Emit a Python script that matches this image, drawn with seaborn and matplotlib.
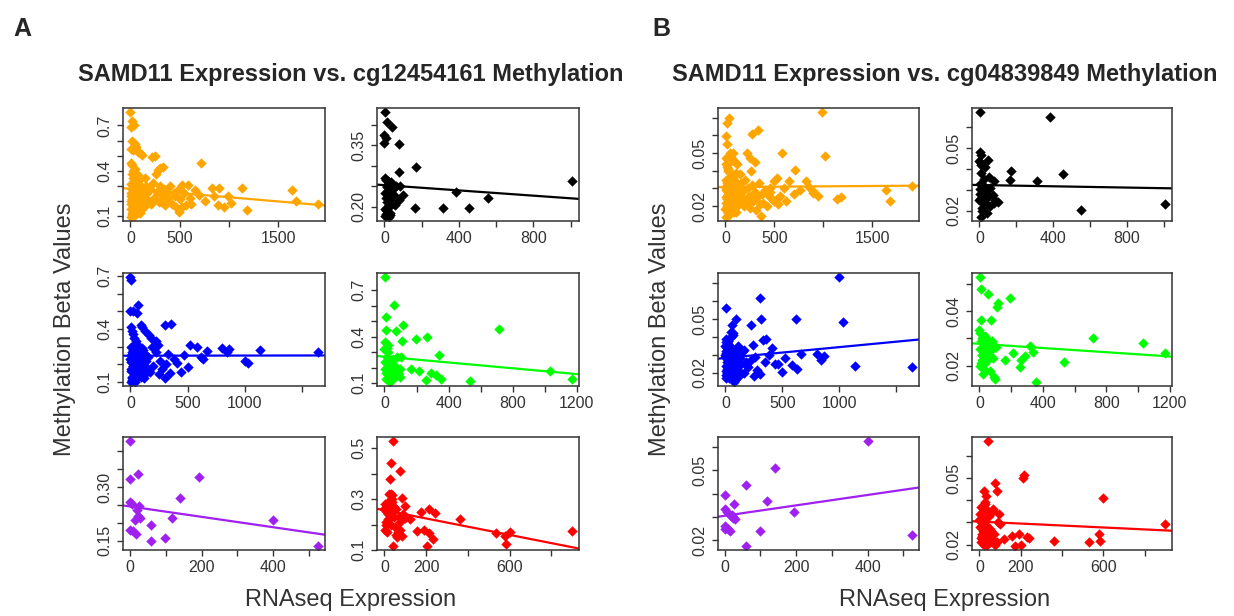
import matplotlib
matplotlib.use('Agg')
import matplotlib.pyplot as plt
import pandas as pd
import seaborn as sns

sns.set_style('ticks')
plt.rcParams['font.family'] = ['Liberation Sans', 'DejaVu Sans']

# RNAseq expression (shared by both panels) and beta values for
# cg12454161 (panel A) and cg04839849 (panel B), one group per colour
orange_x = [0, 18, 35, 8, 12, 45, 60, 5, 25, 80,
            100, 120, 222, 246, 335, 275, 300, 715, 528, 581,
            651, 827, 898, 990, 1021, 891, 1137, 1180, 1637, 1683,
            1901, 493, 362, 524, 455,
            150, 160, 170, 180, 190, 200, 210, 230, 240, 250,
            260, 270, 285, 300, 310, 320, 340, 350, 370, 380,
            400, 420, 440, 460, 480, 500, 540, 560, 600, 620,
            700, 760, 850, 950,
            3, 7, 15, 22, 28, 33, 41, 48, 55, 63,
            70, 77, 85, 92, 104, 112, 125, 138, 1, 9,
            13, 19, 26, 37, 44, 52, 58, 66, 73, 88,
            97, 108, 118, 131, 4, 11, 17, 24, 31, 39,
            47, 56, 68, 81, 95, 115, 142, 6, 14, 29,
            43, 61, 79, 101,
            5, 16, 27, 36, 50, 59, 71, 84, 90, 109,
            2, 20, 32, 46, 65, 75, 98, 122, 135, 12]
orange_a = [0.788, 0.727, 0.700, 0.690, 0.600, 0.580, 0.560, 0.545, 0.535, 0.525,
            0.515, 0.505, 0.493, 0.497, 0.428, 0.406, 0.420, 0.449, 0.307, 0.303,
            0.275, 0.286, 0.286, 0.230, 0.187, 0.172, 0.286, 0.137, 0.270, 0.203,
            0.183, 0.128, 0.200, 0.160, 0.230,
            0.350, 0.300, 0.250, 0.200, 0.200, 0.280, 0.180, 0.320, 0.220, 0.210,
            0.380, 0.260, 0.190, 0.300, 0.190, 0.240, 0.280, 0.170, 0.260, 0.220,
            0.300, 0.180, 0.250, 0.160, 0.270, 0.210, 0.250, 0.170, 0.220, 0.180,
            0.240, 0.200, 0.230, 0.160,
            0.095, 0.25, 0.38, 0.17, 0.30, 0.12, 0.22, 0.41, 0.15, 0.27,
            0.19, 0.33, 0.14, 0.24, 0.18, 0.29, 0.16, 0.21, 0.15, 0.20,
            0.44, 0.11, 0.35, 0.26, 0.17, 0.31, 0.13, 0.23, 0.37, 0.19,
            0.28, 0.14, 0.24, 0.17, 0.31, 0.12, 0.21, 0.40, 0.10, 0.33,
            0.19, 0.26, 0.15, 0.22, 0.12, 0.20, 0.24, 0.45, 0.28, 0.16,
            0.13, 0.35, 0.27, 0.15,
            0.18, 0.21, 0.14, 0.24, 0.19, 0.16, 0.22, 0.13, 0.20, 0.17,
            0.23, 0.15, 0.19, 0.26, 0.12, 0.21, 0.18, 0.24, 0.16, 0.20]
orange_b = [0.0185, 0.0669, 0.0697, 0.0594, 0.0551, 0.0500, 0.0480, 0.0470, 0.0460, 0.0500,
            0.0450, 0.0440, 0.0500, 0.0470, 0.0632, 0.0607, 0.0450, 0.0406, 0.0359, 0.0500,
            0.0341, 0.0341, 0.0275, 0.0731, 0.0481, 0.0288, 0.0243, 0.0250, 0.0294, 0.0228,
            0.0316, 0.0228, 0.0144, 0.0243, 0.0280,
            0.0380, 0.0330, 0.0280, 0.0240, 0.0200, 0.0350, 0.0220, 0.0300, 0.0260, 0.0190,
            0.0400, 0.0320, 0.0230, 0.0280, 0.0180, 0.0250, 0.0330, 0.0210, 0.0270, 0.0220,
            0.0290, 0.0200, 0.0260, 0.0300, 0.0240, 0.0340, 0.0210, 0.0260, 0.0300, 0.0230,
            0.0270, 0.0290, 0.0310, 0.0260,
            0.022, 0.035, 0.018, 0.041, 0.027, 0.015, 0.031, 0.045, 0.024, 0.019,
            0.038, 0.028, 0.021, 0.033, 0.017, 0.026, 0.030, 0.023, 0.029, 0.044,
            0.020, 0.034, 0.016, 0.025, 0.048, 0.022, 0.037, 0.018, 0.027, 0.032,
            0.020, 0.039, 0.024, 0.029, 0.014, 0.026, 0.042, 0.019, 0.031, 0.023,
            0.036, 0.017, 0.028, 0.046, 0.021, 0.033, 0.025, 0.030, 0.018, 0.040,
            0.027, 0.022, 0.035, 0.020,
            0.031, 0.024, 0.028, 0.019, 0.034, 0.026, 0.022, 0.030, 0.017, 0.027,
            0.025, 0.032, 0.021, 0.029, 0.023, 0.036, 0.026, 0.020, 0.028, 0.033]

black_x = [5, 15, 43, 0, 6, 0, 76, 169, 80, 1005,
           86, 102, 80, 383, 554, 164, 313, 452, 6,
           2, 10, 20, 30, 12, 25, 4, 18, 35, 8,
           28, 15, 45, 3, 22, 40, 9, 30, 14, 50,
           5, 25, 60, 35, 55, 7]
black_a = [0.430, 0.407, 0.394, 0.375, 0.367, 0.354, 0.352, 0.298, 0.284, 0.262,
           0.252, 0.230, 0.218, 0.237, 0.222, 0.198, 0.198, 0.198, 0.178,
           0.270, 0.222, 0.255, 0.180, 0.248, 0.205, 0.235, 0.262, 0.228, 0.192,
           0.218, 0.252, 0.245, 0.178, 0.200, 0.240, 0.265, 0.186, 0.212, 0.230,
           0.196, 0.176, 0.252, 0.260, 0.205, 0.182]
black_b = [0.0673, 0.0300, 0.0260, 0.0440, 0.0420, 0.0250, 0.0275, 0.0391, 0.0340, 0.0230,
           0.0250, 0.0243, 0.0238, 0.0648, 0.0203, 0.0348, 0.0340, 0.0375, 0.0170,
           0.0305, 0.0465, 0.0250, 0.0410, 0.0200, 0.0350, 0.0480, 0.0270, 0.0230, 0.0380,
           0.0290, 0.0210, 0.0445, 0.0330, 0.0260, 0.0190, 0.0430, 0.0300, 0.0240, 0.0360,
           0.0280, 0.0320, 0.0220, 0.0285, 0.0310, 0.0260]

blue_x = [0, 5, 70, 0, 20, 61, 91, 105, 130, 161,
          180, 227, 240, 303, 355, 310, 524, 585, 667, 803,
          864, 1136, 1636, 1000, 1030, 500, 439, 303, 167, 121,
          409, 618, 633, 840, 465, 330, 260, 200, 280, 350,
          380, 225, 150, 190, 250,
          2, 8, 14, 21, 27, 34, 42, 49, 57, 64,
          72, 79, 86, 95, 110, 125, 138, 0, 5, 11,
          18, 24, 30, 38, 45, 53, 60, 68, 76, 83,
          99, 117, 132, 3, 9, 16, 23, 35, 47, 58,
          74, 90, 106, 120,
          1, 6, 12, 19, 26, 33, 40, 52, 62, 70,
          81, 93, 101, 115, 128, 4, 15, 29, 44, 66]
blue_a = [0.694, 0.680, 0.538, 0.504, 0.500, 0.490, 0.424, 0.410, 0.390, 0.367,
          0.350, 0.329, 0.310, 0.424, 0.430, 0.200, 0.310, 0.300, 0.275, 0.290,
          0.285, 0.281, 0.268, 0.218, 0.205, 0.186, 0.157, 0.123, 0.157, 0.138,
          0.205, 0.240, 0.230, 0.270, 0.250, 0.260, 0.220, 0.190, 0.170, 0.150,
          0.230, 0.270, 0.240, 0.300, 0.145,
          0.10, 0.30, 0.21, 0.37, 0.15, 0.25, 0.18, 0.33, 0.12, 0.22,
          0.27, 0.16, 0.24, 0.13, 0.20, 0.26, 0.17, 0.23, 0.41, 0.12,
          0.28, 0.19, 0.35, 0.10, 0.21, 0.31, 0.15, 0.20, 0.25, 0.14,
          0.29, 0.18, 0.22, 0.16, 0.27, 0.39, 0.11, 0.23, 0.32, 0.19,
          0.14, 0.21, 0.28, 0.15,
          0.17, 0.21, 0.13, 0.24, 0.19, 0.15, 0.22, 0.18, 0.26, 0.14,
          0.20, 0.16, 0.23, 0.12, 0.19, 0.25, 0.11, 0.21, 0.17, 0.20]
blue_b = [0.0300, 0.0564, 0.0420, 0.0350, 0.0380, 0.0467, 0.0500, 0.0280, 0.0250, 0.0330,
          0.0260, 0.0467, 0.0355, 0.0615, 0.0390, 0.0500, 0.0282, 0.0245, 0.0305, 0.0304,
          0.0295, 0.0240, 0.0233, 0.0733, 0.0482, 0.0205, 0.0249, 0.0191, 0.0200, 0.0180,
          0.0336, 0.0500, 0.0222, 0.0273, 0.0249, 0.0385, 0.0290, 0.0230, 0.0215, 0.0260,
          0.0300, 0.0270, 0.0320, 0.0240, 0.0185,
          0.017, 0.032, 0.024, 0.038, 0.021, 0.028, 0.035, 0.019, 0.026, 0.041,
          0.023, 0.030, 0.016, 0.027, 0.034, 0.020, 0.025, 0.029, 0.039, 0.022,
          0.018, 0.036, 0.025, 0.031, 0.043, 0.020, 0.027, 0.033, 0.015, 0.024,
          0.030, 0.021, 0.028, 0.037, 0.019, 0.026, 0.032, 0.023, 0.040, 0.018,
          0.029, 0.022, 0.035, 0.026,
          0.024, 0.031, 0.020, 0.027, 0.035, 0.022, 0.029, 0.018, 0.026, 0.033,
          0.023, 0.030, 0.019, 0.028, 0.025, 0.021, 0.034, 0.017, 0.027, 0.032]

green_x = [3, 57, 11, 116, 72, 7, 715, 196, 264, 111,
           340, 163, 214, 257, 290, 322, 355, 536, 1031, 1168,
           0, 4, 9, 14, 19, 25, 31, 38, 45, 52,
           60, 68, 77, 86, 95, 104, 2, 6, 12, 17,
           22, 28, 35, 42, 49, 65, 82, 99, 15, 33]
green_a = [0.785, 0.603, 0.528, 0.479, 0.436, 0.443, 0.449, 0.385, 0.400, 0.372,
           0.286, 0.192, 0.179, 0.121, 0.164, 0.154, 0.126, 0.115, 0.179, 0.128,
           0.32, 0.19, 0.13, 0.27, 0.35, 0.16, 0.23, 0.12, 0.18, 0.26,
           0.15, 0.21, 0.27, 0.17, 0.14, 0.27, 0.24, 0.37, 0.17, 0.13,
           0.30, 0.22, 0.11, 0.25, 0.16, 0.14, 0.16, 0.19, 0.33, 0.20]
green_b = [0.0525, 0.0462, 0.0481, 0.0432, 0.0367, 0.0367, 0.0301, 0.0449, 0.0222, 0.0416,
           0.0252, 0.0222, 0.0247, 0.0194, 0.0235, 0.0272, 0.0141, 0.0212, 0.0284, 0.0247,
           0.033, 0.026, 0.021, 0.030, 0.024, 0.019, 0.028, 0.031, 0.022, 0.027,
           0.025, 0.018, 0.029, 0.023, 0.016, 0.027, 0.032, 0.020, 0.029, 0.024,
           0.017, 0.026, 0.021, 0.030, 0.025, 0.028, 0.026, 0.015, 0.022, 0.027]

purple_x = [2, 2, 23, 2, 5, 2, 10, 17, 15, 21,
            26, 24, 29, 60, 60, 99, 118, 141, 194, 400, 523]
purple_a = [0.428, 0.323, 0.337, 0.259, 0.254, 0.180, 0.176, 0.169, 0.209, 0.235,
            0.247, 0.218, 0.215, 0.193, 0.150, 0.159, 0.214, 0.269, 0.327, 0.209, 0.136]
purple_b = [0.0392, 0.0333, 0.0300, 0.0248, 0.0322, 0.0260, 0.0248, 0.0302, 0.0241, 0.0307,
            0.0354, 0.0297, 0.0290, 0.0439, 0.0175, 0.0241, 0.0367, 0.0509, 0.0320, 0.0626, 0.0222]

red_x = [40, 33, 74, 25, 20, 30, 35, 83, 96, 174,
         215, 240, 360, 99, 121, 190, 212, 157, 231, 41,
         203, 579, 600, 582, 896, 532, 60, 75, 83, 8, 13,
         2, 6, 10, 15, 19, 24, 28, 33, 38, 44,
         50, 57, 65, 72, 88, 4, 12, 21, 30, 46,
         54, 68, 0, 17, 36]
red_a = [0.528, 0.444, 0.411, 0.380, 0.320, 0.322, 0.318, 0.304, 0.273, 0.251,
         0.261, 0.244, 0.220, 0.224, 0.220, 0.180, 0.168, 0.175, 0.144, 0.117,
         0.117, 0.157, 0.171, 0.124, 0.175, 0.167, 0.150, 0.180, 0.155, 0.200, 0.170,
         0.28, 0.21, 0.26, 0.24, 0.29, 0.22, 0.27, 0.25, 0.30, 0.23,
         0.19, 0.26, 0.17, 0.21, 0.24, 0.18, 0.25, 0.28, 0.20, 0.27,
         0.16, 0.23, 0.26, 0.22, 0.29]
red_b = [0.0666, 0.0420, 0.0478, 0.0383, 0.0440, 0.0360, 0.0350, 0.0440, 0.0337, 0.0195,
         0.0513, 0.0230, 0.0218, 0.0295, 0.0226, 0.0246, 0.0501, 0.0240, 0.0235, 0.0249,
         0.0200, 0.0246, 0.0409, 0.0215, 0.0295, 0.0211, 0.0226, 0.0200, 0.0210, 0.0230, 0.0250,
         0.034, 0.021, 0.037, 0.026, 0.031, 0.023, 0.039, 0.029, 0.020, 0.033,
         0.027, 0.022, 0.036, 0.025, 0.030, 0.028, 0.024, 0.020, 0.032, 0.022,
         0.026, 0.035, 0.031, 0.028, 0.021]

titles = ['SAMD11 Expression vs. cg12454161 Methylation',
          'SAMD11 Expression vs. cg04839849 Methylation']
panel_letters = ['A', 'B']

# x ticks per group (the same in both panels); blank labels are the ones R skipped
x_ticks = {
    'orange': ([0, 500, 1000, 1500], ['0', '500', '', '1500']),
    'black': ([0, 200, 400, 600, 800, 1000], ['0', '', '400', '', '800', '']),
    'blue': ([0, 500, 1000, 1500], ['0', '500', '1000', '']),
    'green': ([0, 200, 400, 600, 800, 1000, 1200], ['0', '', '400', '', '800', '', '1200']),
    'purple': ([0, 100, 200, 300, 400, 500], ['0', '', '200', '', '400', '']),
    'red': ([0, 200, 400, 600, 800], ['0', '200', '', '600', '']),
}
y_ticks_a = {
    'orange': ([0.1, 0.2, 0.3, 0.4, 0.5, 0.6, 0.7], ['0.1', '', '', '0.4', '', '', '0.7']),
    'black': ([0.20, 0.25, 0.30, 0.35, 0.40], ['0.20', '', '', '0.35', '']),
    'blue': ([0.1, 0.2, 0.3, 0.4, 0.5, 0.6, 0.7], ['0.1', '', '', '0.4', '', '', '0.7']),
    'green': ([0.1, 0.2, 0.3, 0.4, 0.5, 0.6, 0.7], ['0.1', '', '', '0.4', '', '', '0.7']),
    'purple': ([0.15, 0.20, 0.25, 0.30, 0.35, 0.40], ['0.15', '', '', '0.30', '', '']),
    'red': ([0.1, 0.2, 0.3, 0.4, 0.5], ['0.1', '', '0.3', '', '0.5']),
}
y_ticks_b = {
    'orange': ([0.02, 0.03, 0.04, 0.05, 0.06, 0.07], ['0.02', '', '', '0.05', '', '']),
    'black': ([0.02, 0.03, 0.04, 0.05, 0.06], ['0.02', '', '', '0.05', '']),
    'blue': ([0.02, 0.03, 0.04, 0.05, 0.06, 0.07], ['0.02', '', '', '0.05', '', '']),
    'green': ([0.02, 0.03, 0.04, 0.05], ['0.02', '', '0.04', '']),
    'purple': ([0.02, 0.03, 0.04, 0.05, 0.06], ['0.02', '', '', '0.05', '']),
    'red': ([0.02, 0.03, 0.04, 0.05, 0.06], ['0.02', '', '', '0.05', '']),
}

groups = [
    ('orange', '#FFA500', orange_x, orange_a, orange_b),
    ('black', '#000000', black_x, black_a, black_b),
    ('blue', '#0000FF', blue_x, blue_a, blue_b),
    ('green', '#00FF00', green_x, green_a, green_b),
    ('purple', '#A020F0', purple_x, purple_a, purple_b),
    ('red', '#FF0000', red_x, red_a, red_b),
]

W, H = 1234, 616
fig = plt.figure(figsize=(W / 100, H / 100), dpi=100)

panel_cols = [[(123, 325), (377, 579)], [(718, 919), (972, 1172)]]
rows = [(108, 221), (273, 386), (437, 550)]
letter_x = [22, 661]
TXT = '#333333'


def padded(vals):
    lo, hi = min(vals), max(vals)
    r = hi - lo
    return lo - 0.04 * r, hi + 0.04 * r


def draw(ax, x, y, color, xt, yt):
    df = pd.DataFrame({'expr': x, 'beta': y})
    xlim, ylim = padded(df.expr), padded(df.beta)
    ax.set_xlim(xlim)
    ax.set_ylim(ylim)
    sns.regplot(data=df, x='expr', y='beta', ax=ax, ci=None, truncate=False,
                color=color, marker='D',
                scatter_kws=dict(s=28, linewidths=0, alpha=1),
                line_kws=dict(lw=1.6))
    ax.set_xlim(xlim)
    ax.set_ylim(ylim)
    ax.set_xlabel('')
    ax.set_ylabel('')
    ax.set_xticks(xt[0], labels=xt[1])
    ax.set_yticks(yt[0], labels=yt[1])
    ax.tick_params(direction='out', length=4.5, width=1, color=TXT,
                   labelcolor=TXT, labelsize=11.5, pad=3)
    ax.tick_params(axis='y', labelrotation=90)
    for lab in ax.get_yticklabels():
        lab.set_va('center')
    for sp in ax.spines.values():
        sp.set_linewidth(1.1)
        sp.set_color(TXT)


for p in range(2):
    for i, (name, color, gx, ga, gb) in enumerate(groups):
        c0, c1 = panel_cols[p][i % 2]
        r0, r1 = rows[i // 2]
        ax = fig.add_axes([c0 / W, 1 - r1 / H, (c1 - c0) / W, (r1 - r0) / H])
        yvals = ga if p == 0 else gb
        yt = y_ticks_a[name] if p == 0 else y_ticks_b[name]
        draw(ax, gx, yvals, color, x_ticks[name], yt)

    left = panel_cols[p][0][0]
    right = panel_cols[p][1][1]
    mid = (left + right) / 2
    fig.text(letter_x[p] / W, 1 - 29 / H, panel_letters[p], fontsize=18,
             fontweight='bold', ha='center', va='center')
    fig.text(mid / W, 1 - 75 / H, titles[p], fontsize=17, fontweight='bold',
             ha='center', va='center')
    fig.text((left - 58) / W, 1 - 329 / H, 'Methylation Beta Values', rotation=90,
             fontsize=17, color=TXT, ha='center', va='center')
    fig.text(mid / W, 1 - 600 / H, 'RNAseq Expression', fontsize=17, color=TXT,
             ha='center', va='center')

fig.savefig('out.png', dpi=100)
